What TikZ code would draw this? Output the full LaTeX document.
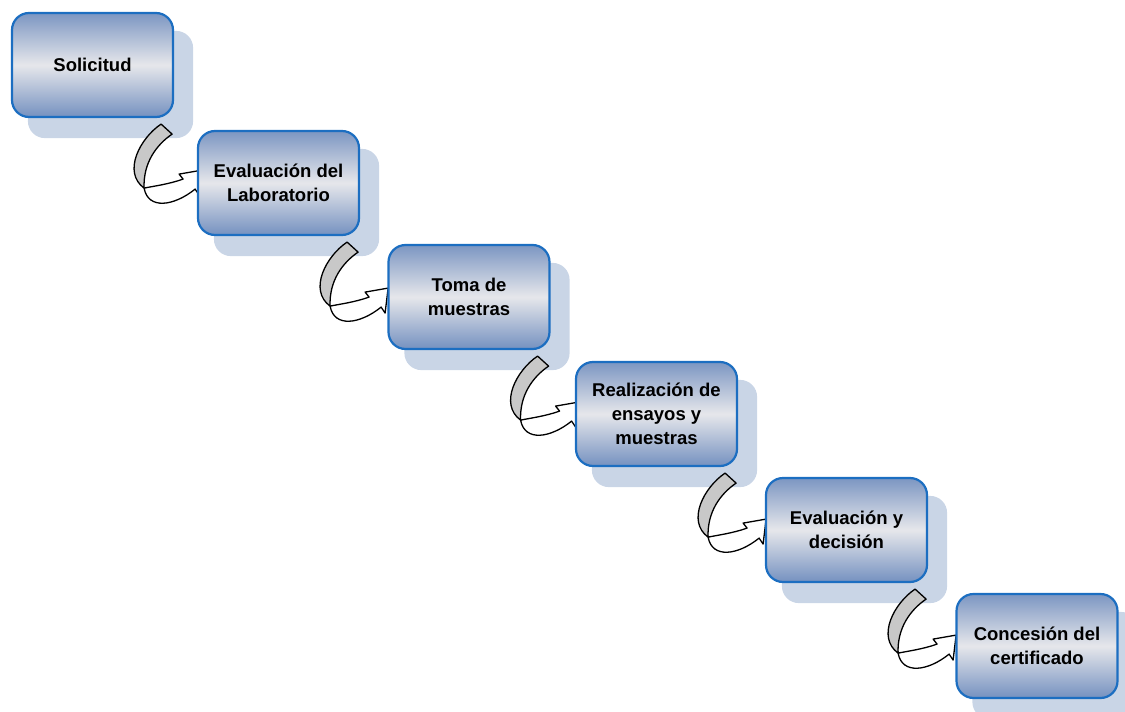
\documentclass[tikz,border=0pt]{standalone}
\usepackage{fontspec}
\setmainfont{Liberation Sans}
\definecolor{boxtop}{HTML}{7C96C2}
\definecolor{boxmid}{HTML}{E6E7EB}
\definecolor{boxbot}{HTML}{7591C0}
\definecolor{boxline}{HTML}{1C6EC1}
\definecolor{shadowc}{HTML}{C9D5E6}
\definecolor{ribgray}{HTML}{C8C8C8}
\pgfdeclarelayer{shadowlayer}
\pgfdeclarelayer{ribbonlayer}
\pgfsetlayers{shadowlayer,ribbonlayer,main}
\tikzset{
  pics/turnarrow/.style={code={
    \filldraw[ribbon, fill=ribgray] (-13,6) -- (-2,16) .. controls (-18,27) and (-31,45) .. (-30,70)
      .. controls (-52,54) and (-34,20) .. cycle;
    \filldraw[ribbon, fill=white] (-30,70) .. controls (-26,92) and (0,88) .. (21,71) -- (25,77)
      -- (28,52) -- (5,56) -- (9,61) .. controls (-5,66) and (-20,68) .. cycle;
  }}
}
\begin{document}
\begin{tikzpicture}[x=1pt,y=-1pt,
  stagebox/.style={draw=boxline, line width=2.2pt, rounded corners=17pt,
    minimum width=161pt, minimum height=104pt, inner sep=0pt,
    shading=axis, top color=boxtop, bottom color=boxbot, middle color=boxmid,
    align=center, font=\fontsize{18.5}{24}\selectfont\bfseries},
  backshadow/.style={fill=shadowc, rounded corners=17pt},
  ribbon/.style={draw=black, line width=1.3pt, line join=round}
]
\useasboundingbox (0,0) rectangle (1125,712);

\node[stagebox] (b1) at (92.5,65) {Solicitud};
\node[stagebox] (b2) at (278.5,183) {Evaluación del\\Laboratorio};
\node[stagebox] (b3) at (469,297) {Toma de\\muestras};
\node[stagebox] (b4) at (656.5,414) {Realización de\\ensayos y\\muestras};
\node[stagebox] (b5) at (846.5,530) {Evaluación y\\decisión};
\node[stagebox] (b6) at (1037,646) {Concesión del\\certificado};

\begin{pgfonlayer}{shadowlayer}
  \clip (0,0) rectangle (1125,712);
  \foreach \b in {b1,b2,b3,b4,b5,b6}{
    \fill[backshadow] ([shift={(17,19)}]\b.north west) rectangle ([shift={(19,20)}]\b.south east);
  }
\end{pgfonlayer}

\begin{pgfonlayer}{ribbonlayer}
  \pic at (b1.south east) {turnarrow};
  \pic at (b2.south east) {turnarrow};
  \pic at (b3.south east) {turnarrow};
  \pic at (b4.south east) {turnarrow};
  \pic at (b5.south east) {turnarrow};
\end{pgfonlayer}
\end{tikzpicture}
\end{document}
